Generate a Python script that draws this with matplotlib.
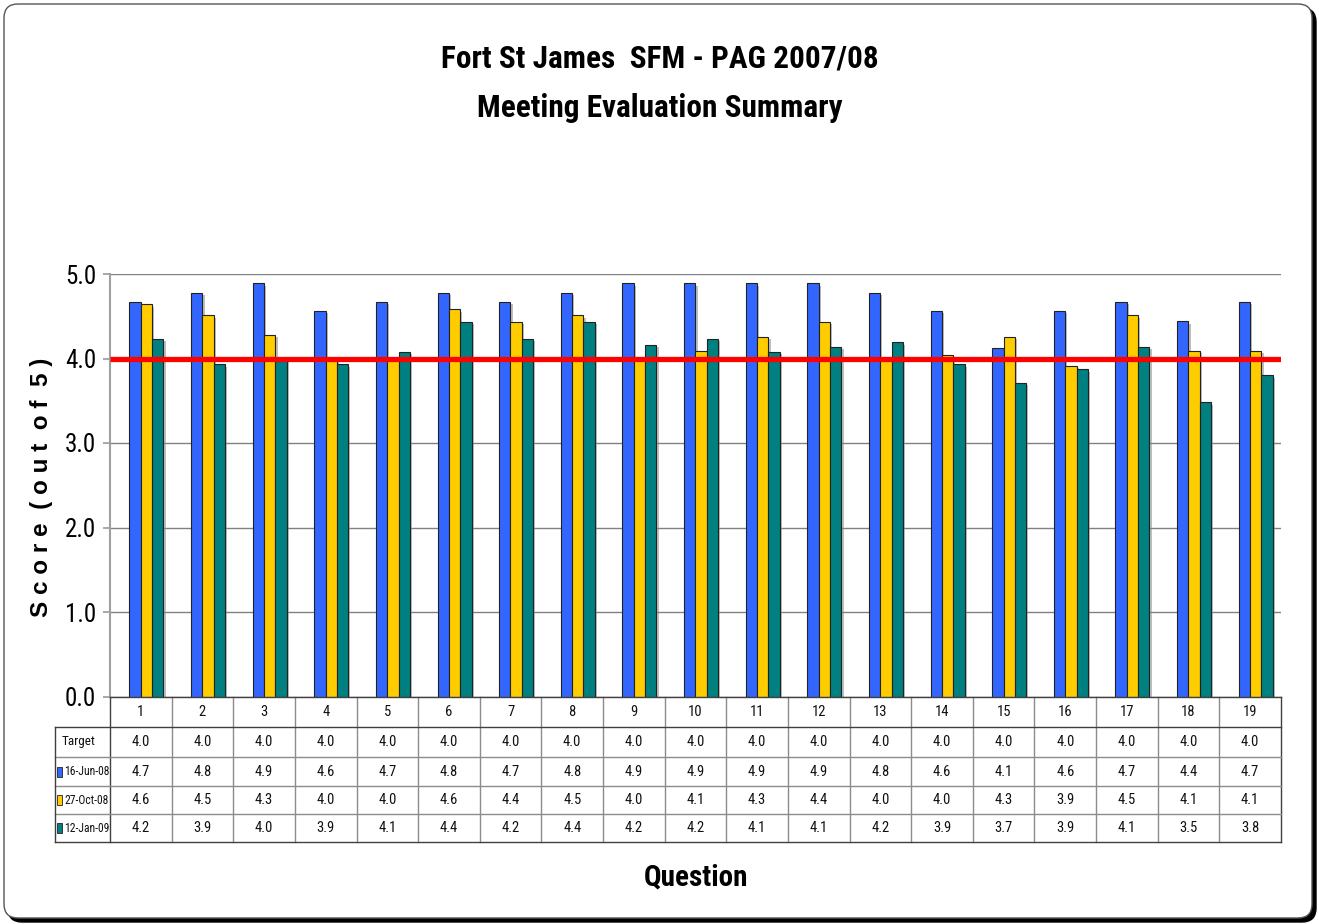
import numpy as np
import matplotlib
matplotlib.use('Agg')
import matplotlib.pyplot as plt
from matplotlib import font_manager
from matplotlib.patches import FancyBboxPatch, Rectangle
from matplotlib.lines import Line2D
import matplotlib.patheffects as pe
import matplotlib.transforms as mtransforms

# ---------------- data ----------------
questions = ['1', '2', '3', '4', '5', '6', '7', '8', '9', '10',
             '11', '12', '13', '14', '15', '16', '17', '18', '19']
target = [4.0, 4.0, 4.0, 4.0, 4.0, 4.0, 4.0, 4.0, 4.0, 4.0,
          4.0, 4.0, 4.0, 4.0, 4.0, 4.0, 4.0, 4.0, 4.0]
jun08 = [4.67, 4.78, 4.89, 4.56, 4.67, 4.78, 4.67, 4.78, 4.89, 4.89,
         4.89, 4.89, 4.78, 4.56, 4.12, 4.56, 4.67, 4.44, 4.67]
oct08 = [4.64, 4.51, 4.28, 4.00, 4.00, 4.58, 4.43, 4.51, 4.00, 4.09,
         4.26, 4.43, 4.00, 4.04, 4.26, 3.91, 4.51, 4.09, 4.09]
jan09 = [4.23, 3.93, 4.00, 3.93, 4.08, 4.43, 4.23, 4.43, 4.16, 4.23,
         4.08, 4.14, 4.19, 3.93, 3.71, 3.87, 4.14, 3.48, 3.80]
series_names = ['16-Jun-08', '27-Oct-08', '12-Jan-09']
target_name = 'Target'
yticks = [0.0, 1.0, 2.0, 3.0, 4.0, 5.0]
title1 = 'Fort St James  SFM - PAG 2007/08'
title2 = 'Meeting Evaluation Summary'
ylabel = 'S c o r e  ( o u t  o f  5 )'
xlabel = 'Question'

# ---------------- style ----------------
colors = ['#3366FF', '#FFCC00', '#008080']
W, H = 1319, 924


def pick(fams):
    for f in fams:
        try:
            font_manager.findfont(font_manager.FontProperties(family=f), fallback_to_default=False)
            return f
        except Exception:
            pass
    return 'DejaVu Sans'


NARROW = pick(['Liberation Sans Narrow', 'Arial Narrow', 'Roboto Condensed', 'DejaVu Sans Condensed', 'Liberation Sans'])
SANS = pick(['Liberation Sans', 'Arial', 'DejaVu Sans'])

fig = plt.figure(figsize=(W / 100, H / 100), dpi=100)
fig.patch.set_facecolor('white')


def fx(px):
    return px / W


def fy(py):
    return 1 - py / H


# border with shadow (pixel coordinates)
ident = mtransforms.IdentityTransform()
shadow = FancyBboxPatch((8, 2), 1308, 914, boxstyle='round,pad=0,rounding_size=14',
                        transform=ident, facecolor='black', edgecolor='black', zorder=-20)
frame = FancyBboxPatch((4, 6), 1308, 914, boxstyle='round,pad=0,rounding_size=14',
                       transform=ident, facecolor='white', edgecolor='#555555', lw=1.0, zorder=-19)
fig.add_artist(shadow)
fig.add_artist(frame)

ax_top, ax_bot, ax_l, ax_r = 274, 696.5, 110, 1281
ax = fig.add_axes([fx(ax_l), fy(ax_bot), fx(ax_r - ax_l), (ax_bot - ax_top) / H])
ax.set_facecolor('none')

n = len(questions)
x = np.arange(n)
bw = 0.184
shift = 0.09
shadow_fx = [pe.SimplePatchShadow(offset=(1.6, -1.6), shadow_rgbFace='#8a8a8a', alpha=0.55), pe.Normal()]
for k, vals in enumerate([jun08, oct08, jan09]):
    bars = ax.bar(x + shift + (k - 1) * bw, vals, width=bw, color=colors[k],
                  edgecolor='#222222', linewidth=0.8, zorder=3, label=series_names[k])
    for b in bars:
        b.set_path_effects(shadow_fx)

ax.stairs(target, edges=np.arange(n + 1) - 0.5, baseline=None, color='#FF0000',
          linewidth=3.8, zorder=5)

ax.set_xlim(-0.5, n - 0.5)
ax.set_ylim(0, 5)
ax.set_yticks(yticks)
ax.set_yticklabels([f'{v:.1f}' for v in yticks], fontsize=18, family=NARROW)
ax.tick_params(axis='y', direction='out', length=5, color='#999999', width=1.2, pad=5)
ax.set_xticks([])
ax.yaxis.grid(True, color='#808080', linewidth=1.0, zorder=0)
ax.set_axisbelow(True)
for s in ['top', 'right', 'bottom']:
    ax.spines[s].set_visible(False)
ax.spines['left'].set_color('#a0a0a0')
ax.spines['left'].set_linewidth(1.5)

# ---------------- data table ----------------
tr = mtransforms.blended_transform_factory(ax.transData, fig.transFigure)
row_y = [727, 757, 786, 814, 842]
hdr_top = 696.5
inner = '#8c8c8c'
outer = '#404040'
lab_l = 55
tfs = 10.5

for i in range(n + 1):
    c = outer if i in (0, n) else inner
    fig.add_artist(Line2D([i - 0.5, i - 0.5], [fy(hdr_top), fy(row_y[-1])], transform=tr,
                          color=c, lw=1.0))
fig.add_artist(Line2D([-0.5, n - 0.5], [fy(hdr_top), fy(hdr_top)], transform=tr, color=outer, lw=1.0))
for j, yy in enumerate(row_y):
    c = outer if j in (0, len(row_y) - 1) else inner
    fig.add_artist(Line2D([fx(lab_l), fx(ax_r)], [fy(yy), fy(yy)], transform=fig.transFigure,
                          color=c, lw=1.0))
fig.add_artist(Line2D([fx(lab_l), fx(lab_l)], [fy(row_y[0]), fy(row_y[-1])], transform=fig.transFigure,
                      color=outer, lw=1.0))

for i, q in enumerate(questions):
    fig.text(i, fy((hdr_top + row_y[0]) / 2), q, transform=tr, ha='center', va='center',
             fontsize=tfs, family=NARROW, color='#111111')

rows = [(target_name, target, None)] + [(series_names[k], v, colors[k]) for k, v in enumerate([jun08, oct08, jan09])]
for j, (name, vals, col) in enumerate(rows):
    yc = (row_y[j] + row_y[j + 1]) / 2
    if col is None:
        fig.text(fx(79), fy(yc), name, ha='center', va='center', fontsize=9.5, family=NARROW, color='#111111')
    else:
        fig.add_artist(Rectangle((fx(57), fy(yc + 5)), fx(5), 10 / H, transform=fig.transFigure,
                                 facecolor=col, edgecolor='#222222', lw=0.6))
        fig.text(fx(64), fy(yc), name, ha='left', va='center', fontsize=8.4, family=NARROW, color='#111111')
    for i, v in enumerate(vals):
        fig.text(i, fy(yc), f'{v:.1f}', transform=tr, ha='center', va='center',
                 fontsize=tfs, family=NARROW, color='#111111')

# ---------------- titles ----------------
fig.text(0.5, fy(58), title1, ha='center', va='center', fontsize=22.5, fontweight='bold', family=NARROW)
fig.text(0.5, fy(108), title2, ha='center', va='center', fontsize=22.5, fontweight='bold', family=NARROW)
fig.text(fx(42), fy(487), ylabel, ha='center', va='center', rotation=90, fontsize=17.5,
         fontweight='bold', family=SANS)
fig.text(fx(696), fy(877), xlabel, ha='center', va='center', fontsize=21, fontweight='bold', family=NARROW)

fig.savefig('out.png', dpi=100, facecolor='white')
